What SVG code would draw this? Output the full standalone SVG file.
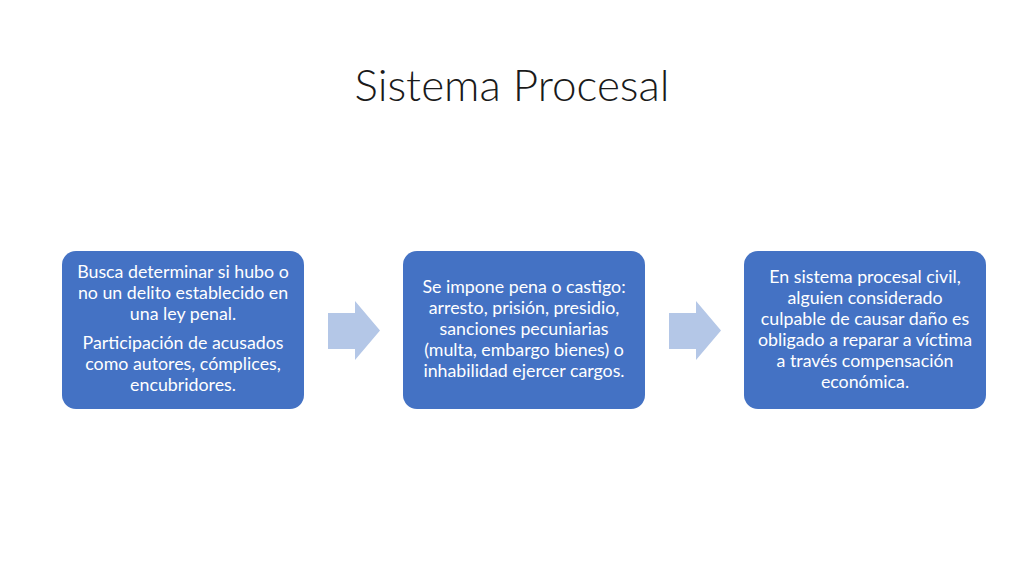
<svg xmlns="http://www.w3.org/2000/svg" width="1024" height="576" viewBox="0 0 1024 576">
<style>
.box{fill:#4472C4;}
.arr{fill:#B4C7E7;}
.t{font-family:Lato,"Liberation Sans",sans-serif;font-size:17.8px;fill:#FFFFFF;text-anchor:middle;}
.title{font-family:Lato,"Liberation Sans",sans-serif;font-weight:300;font-size:44px;fill:#1a1a1a;text-anchor:middle;}
</style>
<rect width="1024" height="576" fill="#FFFFFF"/>
<text class="title" x="512" y="101">Sistema Procesal</text>
<g id="connectors">
<polygon class="arr" points="328,313 355,313 355,301 380,330.5 355,360 355,349 328,349"/>
<polygon class="arr" points="669,313 696,313 696,301 721,330.5 696,360 696,349 669,349"/>
</g>
<g id="node1">
<rect class="box" x="62" y="251" width="242" height="158" rx="14"/>
<text class="t"><tspan x="183" y="278">Busca determinar si hubo o</tspan><tspan x="183" y="299">no un delito establecido en</tspan><tspan x="183" y="320">una ley penal.</tspan><tspan x="183" y="349">Participación de acusados</tspan><tspan x="183" y="370">como autores, cómplices,</tspan><tspan x="183" y="391">encubridores.</tspan></text>
</g>
<g id="node2">
<rect class="box" x="403" y="251" width="242" height="158" rx="14"/>
<text class="t"><tspan x="524" y="293">Se impone pena o castigo:</tspan><tspan x="524" y="314">arresto, prisión, presidio,</tspan><tspan x="524" y="335">sanciones pecuniarias</tspan><tspan x="524" y="356">(multa, embargo bienes) o</tspan><tspan x="524" y="377">inhabilidad ejercer cargos.</tspan></text>
</g>
<g id="node3">
<rect class="box" x="744" y="251" width="242" height="158" rx="14"/>
<text class="t"><tspan x="865" y="283">En sistema procesal civil,</tspan><tspan x="865" y="304">alguien considerado</tspan><tspan x="865" y="325">culpable de causar daño es</tspan><tspan x="865" y="346">obligado a reparar a víctima</tspan><tspan x="865" y="367">a través compensación</tspan><tspan x="865" y="388">económica.</tspan></text>
</g>
</svg>
